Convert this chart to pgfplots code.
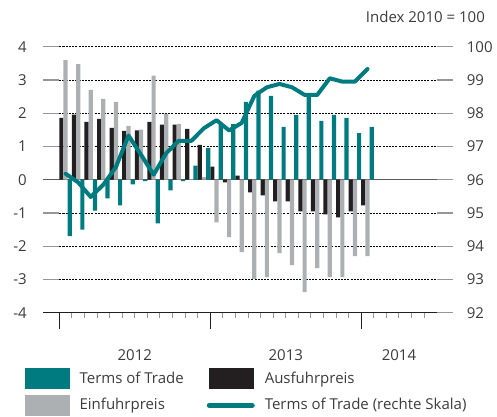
\documentclass[border=0pt]{standalone}
\usepackage{pgfplots}
\pgfplotsset{compat=1.18}
\usepackage{pgfplotstable}
\usepackage{fontspec}
\setmainfont{Open Sans}
\definecolor{tealc}{RGB}{0,124,128}
\definecolor{blackc}{RGB}{35,31,32}
\definecolor{greyc}{RGB}{173,176,178}
\definecolor{txt}{RGB}{60,60,60}
\definecolor{stub}{RGB}{150,150,150}
\definecolor{zerol}{RGB}{90,90,90}

\pgfplotstableread{
m aus ein tot line
0 1.86 3.60 -1.70 96.18
1 1.96 3.48 -1.50 95.92
2 1.74 2.70 -0.93 95.48
3 1.83 2.43 -0.56 95.85
4 1.56 2.34 -0.77 96.38
5 1.47 1.62 -0.14 97.33
6 1.48 1.51 -0.04 96.75
7 1.74 3.13 -1.31 96.15
8 1.66 1.98 -0.32 96.80
9 1.66 1.68 -0.04 97.17
10 1.53 0.02 0.42 97.17
11 1.05 0.08 0.96 97.55
12 0.39 -1.28 1.65 97.79
13 -0.08 -1.73 1.67 97.48
14 0.12 -2.18 2.34 97.71
15 -0.38 -2.98 2.68 98.52
16 -0.47 -2.93 2.52 98.78
17 -0.65 -2.21 1.59 98.88
18 -0.65 -2.57 1.95 98.78
19 -0.95 -3.38 2.56 98.55
20 -0.95 -2.66 1.77 98.55
21 -1.04 -2.93 1.95 99.05
22 -1.13 -2.93 1.86 98.95
23 -0.95 -2.30 1.40 98.95
24 -0.77 -2.30 1.59 99.33
}\data

\begin{document}
\fontsize{15pt}{18pt}\selectfont
\color{txt}
\begin{tikzpicture}
\begin{axis}[
  at={(0,0)}, anchor=south west, scale only axis,
  width=377.4pt, height=266pt,
  xmin=0, xmax=30, ymin=-4, ymax=4,
  clip=false,
  axis line style={draw=none},
  tick align=outside, major tick length=16pt, minor tick length=5.7pt,
  ytick={-4,...,4}, yticklabels={-4,-3,-2,-1,0,1,2,3,4},
  ytick pos=left, yticklabel pos=left,
  ytick style={draw=stub, line width=1.3pt},
  yticklabel style={anchor=east, inner sep=0pt, xshift=-16.3pt, text=txt},
  xtick={6,18,27}, xticklabels={2012,2013,2014},
  xtick pos=bottom, xticklabel pos=bottom,
  major x tick style={draw=none},
  minor xtick={1,...,29},
  minor x tick style={draw=stub, line width=1pt},
  xticklabel style={anchor=north, inner sep=0pt, yshift=-20.6pt, text=txt},
  ymajorgrids,
  major grid style={draw=black, dash pattern=on 2pt off 1.2pt, line width=0.6pt},
  legend columns=2, legend cell align=left,
  legend style={at={(0,0)}, anchor=north west, xshift=-34.3pt, yshift=-55.3pt,
    draw=none, fill=none, inner sep=0pt, row sep=6.5pt,
    nodes={inner sep=0pt, text=txt},
    /tikz/every odd column/.style={column sep=10pt},
    /tikz/every even column/.style={column sep=23pt}},
]
\draw[zerol, line width=1pt] ([xshift=-16pt]axis cs:0,0) -- ([xshift=16pt]axis cs:30,0);
\addplot[ybar, bar width=0.3333, bar shift=0pt, fill=blackc, draw=none, forget plot]
  table[x expr=\thisrow{m}+0.1667, y=aus] {\data};
\addplot[ybar, bar width=0.3333, bar shift=0pt, fill=greyc, draw=none, forget plot]
  table[x expr=\thisrow{m}+0.5, y=ein] {\data};
\addplot[ybar, bar width=0.3333, bar shift=0pt, fill=tealc, draw=none, forget plot]
  table[x expr=\thisrow{m}+0.8333, y=tot] {\data};
\draw[blackc, line width=1pt] ([xshift=-16pt]axis cs:0,-4) -- ([xshift=16pt]axis cs:30,-4);
\addlegendimage{legend image code/.code={\fill[tealc] (0pt,-10pt) rectangle (44pt,10pt);}}
\addlegendentry{Terms of Trade}
\addlegendimage{legend image code/.code={\fill[blackc] (0pt,-10pt) rectangle (44pt,10pt);}}
\addlegendentry{Ausfuhrpreis}
\addlegendimage{legend image code/.code={\fill[greyc] (0pt,-10pt) rectangle (44pt,10pt);}}
\addlegendentry{Einfuhrpreis}
\addlegendimage{legend image code/.code={\draw[tealc, line width=5pt, line cap=round] (0.5pt,0pt) -- (43.5pt,0pt);}}
\addlegendentry{Terms of Trade (rechte Skala)}
\end{axis}
\begin{axis}[
  at={(0,0)}, anchor=south west, scale only axis,
  width=377.4pt, height=266pt,
  xmin=0, xmax=30, ymin=92, ymax=100,
  axis line style={draw=none},
  tick align=outside, major tick length=16pt,
  ytick={92,...,100}, yticklabels={92,93,94,95,96,97,98,99,100},
  ytick pos=right, yticklabel pos=right,
  ytick style={draw=stub, line width=1.3pt},
  yticklabel style={anchor=west, inner sep=0pt, xshift=14pt, text=txt},
  xtick={0,12,24}, xticklabels={}, xtick pos=bottom,
  xtick style={draw=blackc, line width=1pt},
]
\addplot[tealc, line width=4pt, line join=round, line cap=round]
  table[x expr=\thisrow{m}+0.5, y=line] {\data};
\end{axis}
\node[anchor=east, inner sep=0pt, text=txt] at (425.7pt,295.7pt) {Index 2010 = 100};
\pgfresetboundingbox
\useasboundingbox (-59.3pt,-103.3pt) rectangle (437.7pt,312.7pt);
\end{tikzpicture}
\end{document}
